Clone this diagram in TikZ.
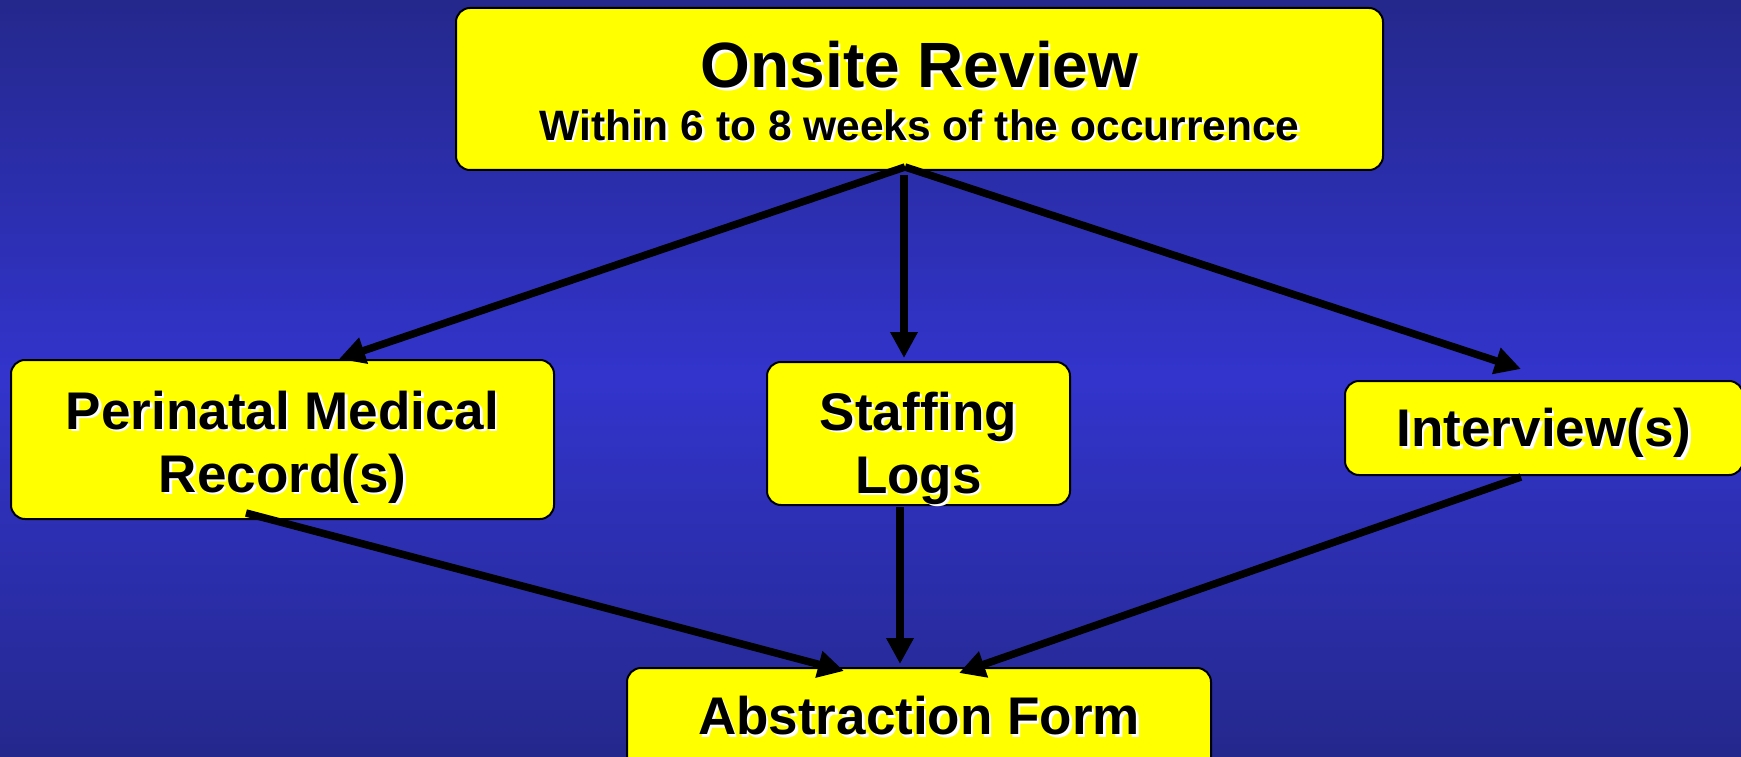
\documentclass[tikz,border=0pt]{standalone}
\usepackage{fontspec}
\setmainfont{Liberation Sans}
\usetikzlibrary{arrows.meta}
\definecolor{bgdark}{RGB}{36,40,140}
\definecolor{bgmid}{RGB}{50,52,204}
\definecolor{boxy}{RGB}{255,255,0}
\newcommand\dtext[3]{%
  \node[shd,font=\bfseries#2] at #1 {#3};
  \node[lbl,font=\bfseries#2] at #1 {#3};}
\begin{document}
\begin{tikzpicture}[x=1pt,y=-1pt,
  box/.style={draw=black,line width=2pt,fill=boxy,rounded corners=14pt,inner sep=0pt},
  lbl/.style={align=center,text=black,inner sep=0pt},
  shd/.style={align=center,text=white,inner sep=0pt,xshift=2.5pt,yshift=-2.5pt},
  conn/.style={line width=7.5pt,-{Triangle[length=26pt,width=26pt]}}]
\fill[top color=bgdark,bottom color=bgdark,middle color=bgmid] (0,0) rectangle (1741,757);
\useasboundingbox (0,0) rectangle (1741,757);
% boxes
\node[box,minimum width=927pt,minimum height=162pt] (top) at (919.5,89) {};
\node[box,minimum width=543pt,minimum height=159pt] (rec) at (282.5,439.5) {};
\node[box,minimum width=303pt,minimum height=143pt] (staff) at (918.5,433.5) {};
\node[box,minimum width=398pt,minimum height=94pt] (int) at (1544,428) {};
\node[box,minimum width=584pt,minimum height=130pt] (abs) at (919,733) {};
% texts
\dtext{(919.5,65)}{\fontsize{64}{70}\selectfont}{Onsite Review}
\dtext{(919.5,125)}{\fontsize{42.5}{48}\selectfont}{Within 6 to 8 weeks of the occurrence}
\dtext{(282.5,447)}{\fontsize{53}{63}\selectfont}{Perinatal Medical\\Record(s)}
\dtext{(918.5,448)}{\fontsize{53}{63}\selectfont}{Staffing\\Logs}
\dtext{(1544,433)}{\fontsize{53}{60}\selectfont}{Interview(s)}
\dtext{(919,716)}{\fontsize{53}{60}\selectfont}{Abstraction Form}
% connector ends
\coordinate (s0) at (905,167);
\coordinate (s1) at (904,175);
\coordinate (e1) at (339,359);
\coordinate (e2) at (904,358);
\coordinate (e3) at (1521,369);
\coordinate (f1) at (246,513);
\coordinate (f2) at (900,507);
\coordinate (f3) at (1521,477);
\coordinate (g1) at (844,671);
\coordinate (g2) at (900,664);
\coordinate (g3) at (959,673);
\draw[conn] (s0) -- (e1);
\draw[conn] (s1) -- (e2);
\draw[conn] (s0) -- (e3);
\draw[conn] (f1) -- (g1);
\draw[conn] (f2) -- (g2);
\draw[conn] (f3) -- (g3);
\end{tikzpicture}
\end{document}
